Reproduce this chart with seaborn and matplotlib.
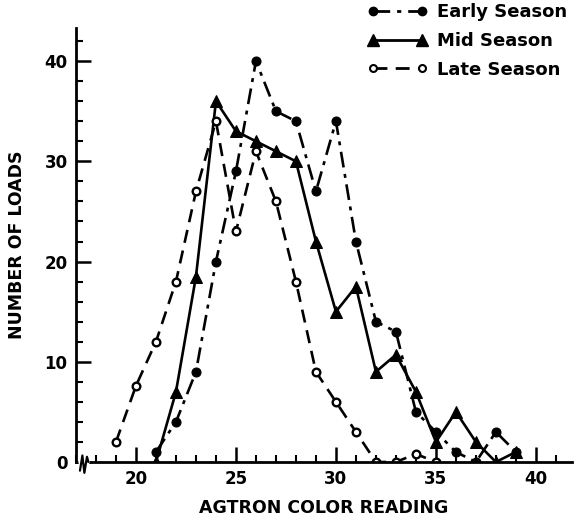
import numpy as np
import pandas as pd
import matplotlib
matplotlib.use("Agg")
import matplotlib.pyplot as plt
import seaborn as sns
from matplotlib.ticker import MultipleLocator
from matplotlib.lines import Line2D

# ---- data ----
early_x = [21, 22, 23, 24, 25, 26, 27, 28, 29, 30, 31, 32, 33, 34, 35, 36, 37, 38, 39]
early_y = [1, 4, 9, 20, 29, 40, 35, 34, 27, 34, 22, 14, 13, 5, 3, 1, 0, 3, 1]

mid_x = [21, 22, 23, 24, 25, 26, 27, 28, 29, 30, 31, 32, 33, 34, 35, 36, 37, 38, 39]
mid_y = [0, 7, 18.5, 36, 33, 32, 31, 30, 22, 15, 17.5, 9, 10.7, 7, 2, 5, 2, 0, 1]

late_x = [19, 20, 21, 22, 23, 24, 25, 26, 27, 28, 29, 30, 31, 32, 33, 34, 35]
late_y = [2, 7.6, 12, 18, 27, 34, 23, 31, 26, 18, 9, 6, 3, 0, 0, 0.8, 0]

series_names = ["Early Season", "Mid Season", "Late Season"]
x_ticks = [20, 25, 30, 35, 40]
y_ticks = [0, 10, 20, 30, 40]
x_label = "AGTRON COLOR READING"
y_label = "NUMBER OF LOADS"

sns.set_theme(style="ticks")
plt.rcParams["font.family"] = ["DejaVu Sans"]
plt.rcParams["font.weight"] = "bold"
for k in ["text.color", "axes.labelcolor", "xtick.color", "ytick.color", "axes.edgecolor"]:
    plt.rcParams[k] = "black"

fig = plt.figure(figsize=(5.8, 5.26), dpi=100)
ax = fig.add_axes([0.131, 0.1217, 0.855, 0.825])

df_e = pd.DataFrame({"x": early_x, "y": early_y})
df_m = pd.DataFrame({"x": mid_x, "y": mid_y})
df_l = pd.DataFrame({"x": late_x, "y": late_y})

dashdot = (0, (6, 2.5, 1.5, 2.5))
dashed = (0, (5, 3))

sns.lineplot(data=df_e, x="x", y="y", ax=ax, color="black", lw=1.9,
             linestyle=dashdot, marker="o", markersize=6.5,
             markerfacecolor="black", markeredgecolor="black", label=series_names[0])
sns.lineplot(data=df_m, x="x", y="y", ax=ax, color="black", lw=1.9,
             linestyle="-", marker="^", markersize=9,
             markerfacecolor="black", markeredgecolor="black", label=series_names[1])
sns.lineplot(data=df_l, x="x", y="y", ax=ax, color="black", lw=1.9,
             linestyle=dashed, marker="o", markersize=5.5,
             markerfacecolor="white", markeredgecolor="black", markeredgewidth=1.7,
             label=series_names[2])

ax.set_xlim(17, 41.8)
ax.set_ylim(0, 43.3)
ax.set_xticks(x_ticks)
ax.set_yticks(y_ticks)
ax.xaxis.set_minor_locator(MultipleLocator(1))
ax.yaxis.set_minor_locator(MultipleLocator(2))
ax.tick_params(axis="both", which="major", direction="in", length=11, width=1.8,
               labelsize=12, color="black", labelcolor="black", pad=6)
ax.tick_params(axis="both", which="minor", direction="in", length=5, width=1.5, color="black")
for lab in ax.get_xticklabels() + ax.get_yticklabels():
    lab.set_fontweight("bold")

for s in ["top", "right"]:
    ax.spines[s].set_visible(False)
for s in ["left", "bottom"]:
    ax.spines[s].set_linewidth(2.0)
    ax.spines[s].set_color("black")

ax.set_xlabel(x_label, fontsize=12.5, fontweight="bold", labelpad=8, color="black")
ax.set_ylabel(y_label, fontsize=12.5, fontweight="bold", labelpad=13, color="black")

# axis break squiggle near origin
trans = ax.get_xaxis_transform()
ax.plot([17.25, 17.55], [0, 0], transform=trans, color="white", lw=4, clip_on=False, zorder=5)
ax.plot([17.2, 17.32, 17.42, 17.55, 17.62], [-0.02, 0.015, -0.025, 0.012, 0.0],
        transform=trans, color="black", lw=1.6, clip_on=False, zorder=6)

ax.get_legend().remove()
handles = [
    Line2D([], [], color="black", lw=2, linestyle=dashdot, marker="o",
           markersize=6, markerfacecolor="black"),
    Line2D([], [], color="black", lw=2, linestyle="-", marker="^", markersize=8,
           markerfacecolor="black"),
    Line2D([], [], color="black", lw=2, linestyle=dashed, marker="o", markersize=5,
           markerfacecolor="white", markeredgewidth=1.5),
]
leg = fig.legend(handles, series_names, loc="upper right", bbox_to_anchor=(1.005, 1.025),
                 frameon=False, numpoints=2, handlelength=3.3, handletextpad=0.5,
                 labelspacing=0.6, prop={"size": 13, "weight": "bold"})
for t in leg.get_texts():
    t.set_color("black")

fig.savefig("out.png", dpi=100)
